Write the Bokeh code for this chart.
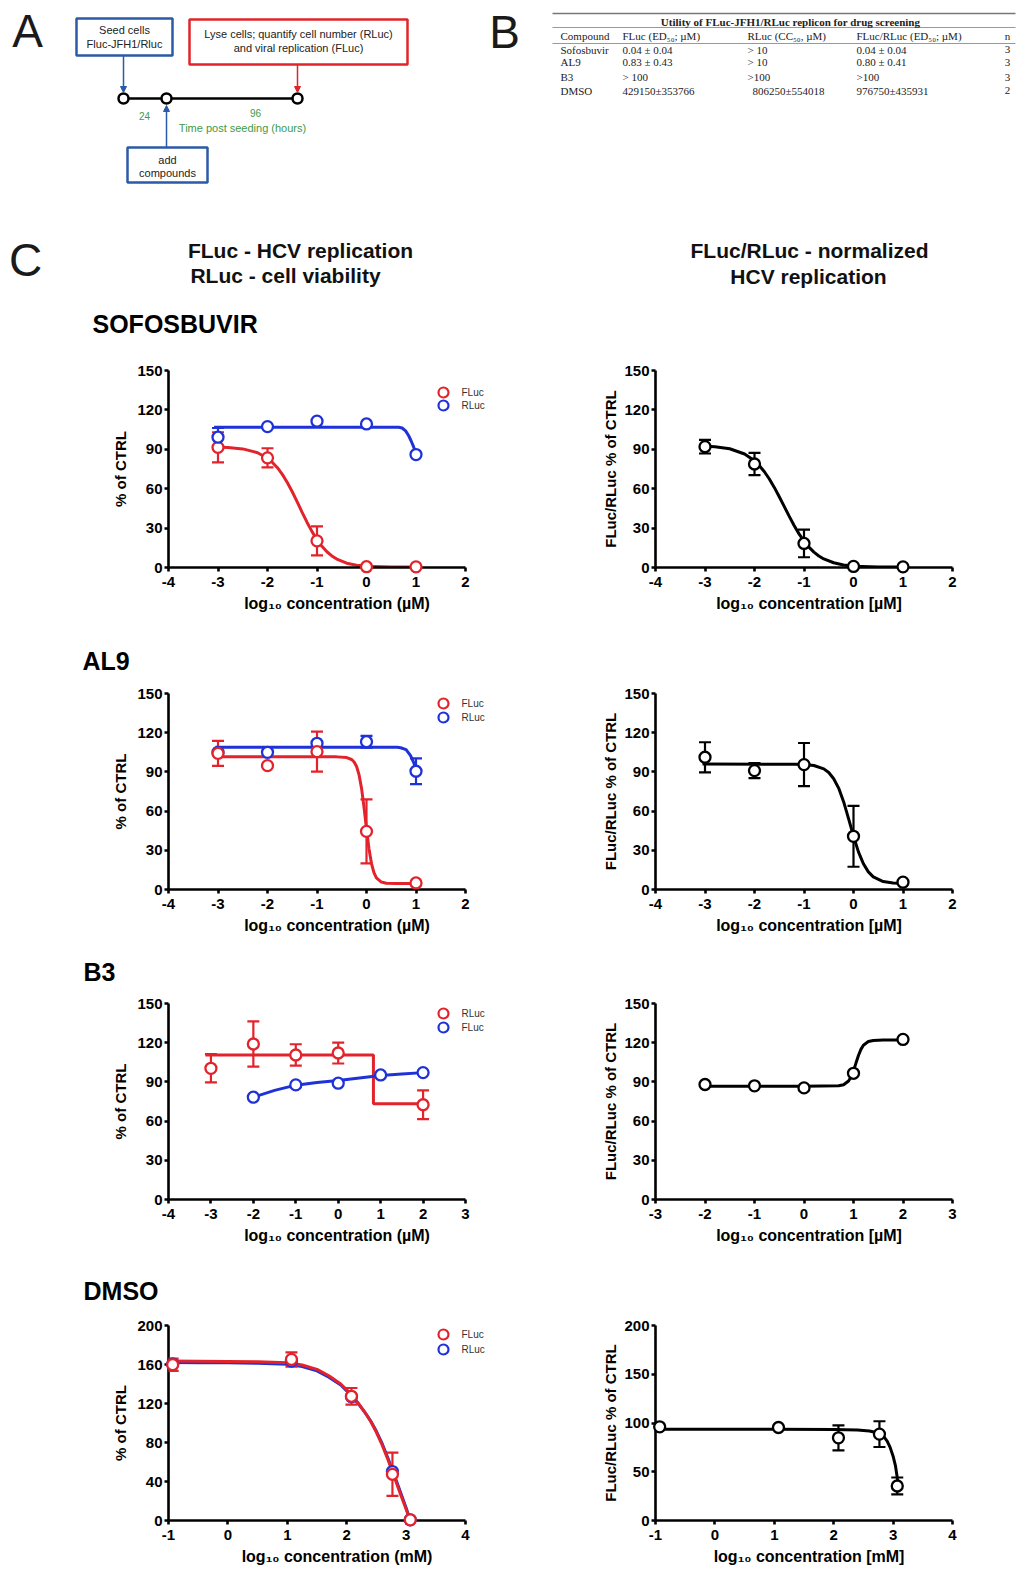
import math
from bokeh.plotting import figure
from bokeh.models import (Range1d, Label, Whisker, TeeHead, ColumnDataSource,
                          FixedTicker, Arrow, NormalHead)
from bokeh.layouts import column, row
from bokeh.embed import file_html
from bokeh.resources import INLINE

# ====================== DATA ======================
# Panel B table
table_title = "Utility of FLuc-JFH1/RLuc replicon for drug screening"
table_header = ["Compound", "FLuc (ED\u2085\u2080; \u00b5M)", "RLuc (CC\u2085\u2080, \u00b5M)", "FLuc/RLuc (ED\u2085\u2080; \u00b5M)", "n"]
table_compounds = ["Sofosbuvir", "AL9", "B3", "DMSO"]
table_fluc = ["0.04 \u00b1 0.04", "0.83 \u00b1 0.43", "> 100", "429150\u00b1353766"]
table_rluc = ["> 10", "> 10", ">100", "806250\u00b1554018"]
table_ratio = ["0.04 \u00b1 0.04", "0.80 \u00b1 0.41", ">100", "976750\u00b1435931"]
table_n = ["3", "3", "3", "2"]

# Tick labels
ticks_x_a = [-4, -3, -2, -1, 0, 1, 2]
ticks_x_a_labels = ["-4", "-3", "-2", "-1", "0", "1", "2"]
ticks_x_b3l = [-4, -3, -2, -1, 0, 1, 2, 3]
ticks_x_b3l_labels = ["-4", "-3", "-2", "-1", "0", "1", "2", "3"]
ticks_x_b3r = [-3, -2, -1, 0, 1, 2, 3]
ticks_x_b3r_labels = ["-3", "-2", "-1", "0", "1", "2", "3"]
ticks_x_dmso = [-1, 0, 1, 2, 3, 4]
ticks_x_dmso_labels = ["-1", "0", "1", "2", "3", "4"]
ticks_y_150 = [0, 30, 60, 90, 120, 150]
ticks_y_150_labels = ["0", "30", "60", "90", "120", "150"]
ticks_y_dmso_l = [0, 40, 80, 120, 160, 200]
ticks_y_dmso_l_labels = ["0", "40", "80", "120", "160", "200"]
ticks_y_dmso_r = [0, 50, 100, 150, 200]
ticks_y_dmso_r_labels = ["0", "50", "100", "150", "200"]

# ---- SOFOSBUVIR ----
sofos_x = [-3, -2, -1, 0, 1]
sofos_fluc = [91.5, 83.5, 20.3, 0.6, 0.5]
sofos_fluc_err = [11.5, 7.3, 11.0, 0, 0]
sofos_rluc = [99.2, 107.3, 111.4, 109.3, 86.0]
sofos_rluc_err = [7.0, 0, 0, 0, 0]
sofos_ratio = [92.0, 78.8, 18.3, 0.8, 0.5]
sofos_ratio_err = [5.2, 8.5, 10.5, 0, 0]
sofos_fluc_fit_x = [-3.05, -2.8, -2.5, -2.2, -2.0, -1.9, -1.8, -1.7, -1.6, -1.5, -1.4, -1.3, -1.2, -1.1,
                    -1.0, -0.9, -0.8, -0.7, -0.6, -0.4, -0.2, 0.0, 0.5, 1.05]
sofos_fluc_fit_y = [91.7, 91.4, 90.3, 87.4, 83.2, 80.0, 76.0, 70.9, 64.7, 57.7, 50.0, 42.0, 34.3, 27.3,
                    21.1, 16.1, 12.0, 8.8, 6.4, 3.3, 1.7, 0.9, 0.4, 0.3]
sofos_rluc_fit_x = [-3.08, 0.65, 0.72, 0.79, 0.85, 0.9, 0.95, 1.0, 1.02]
sofos_rluc_fit_y = [106.8, 106.8, 106.2, 104.0, 100.5, 96.5, 92.0, 87.0, 85.0]
sofos_ratio_fit_x = [-3.05, -2.8, -2.5, -2.2, -2.0, -1.9, -1.8, -1.7, -1.6, -1.5, -1.4, -1.3, -1.2, -1.1,
                     -1.0, -0.9, -0.8, -0.7, -0.6, -0.4, -0.2, 0.0, 0.5, 1.05]
sofos_ratio_fit_y = [92.5, 92.0, 90.4, 86.4, 81.3, 77.5, 72.9, 67.4, 61.0, 53.9, 46.5, 39.1, 32.0, 25.6,
                     20.1, 15.5, 11.7, 8.8, 6.5, 3.6, 1.9, 1.0, 0.4, 0.3]

# ---- AL9 ----
al9_x = [-3, -2, -1, 0, 1]
al9_fluc = [104.2, 94.8, 105.5, 44.5, 5.0]
al9_fluc_err = [9.6, 0, 15.3, 24.5, 0]
al9_rluc = [105.0, 105.0, 111.9, 113.1, 90.5]
al9_rluc_err = [0, 0, 0, 4.5, 9.8]
al9_ratio = [101.2, 91.0, 95.6, 40.7, 5.6]
al9_ratio_err = [11.5, 5.8, 16.5, 23.3, 0]
al9_fluc_fit_x = [-3.05, -1.0, -0.6, -0.4, -0.3, -0.25, -0.2, -0.15, -0.1, -0.05, 0.0, 0.05, 0.1, 0.15,
                  0.2, 0.3, 0.4, 0.6, 1.05]
al9_fluc_fit_y = [101.5, 101.5, 101.5, 101.0, 99.5, 97.6, 94.1, 87.7, 77.4, 62.9, 46.3, 31.2, 20.0, 12.9,
                  8.9, 5.7, 4.8, 4.5, 4.5]
al9_rluc_fit_x = [-3.05, 0.62, 0.69, 0.8, 0.89, 0.95, 1.0, 1.02]
al9_rluc_fit_y = [108.8, 108.8, 108.5, 107.0, 102.5, 97.5, 92.0, 90.0]
al9_ratio_fit_x = [-3.05, -1.2, -1.0, -0.8, -0.6, -0.5, -0.4, -0.3, -0.2, -0.1, 0.0, 0.1, 0.2, 0.3,
                   0.4, 0.6, 0.8, 1.05]
al9_ratio_fit_y = [96.0, 95.9, 95.7, 94.9, 92.3, 89.5, 84.8, 77.6, 67.2, 54.3, 40.8, 28.8, 19.7, 13.5,
                   9.7, 6.1, 5.0, 4.6]

# ---- B3 ----
b3_rluc_x = [-3, -2, -1, 0, 2]
b3_rluc = [100.4, 119.0, 110.6, 112.1, 72.5]
b3_rluc_err = [10.8, 17.3, 8.2, 8.0, 11.0]
b3_fluc_x = [-2, -1, 0, 1, 2]
b3_fluc = [78.3, 87.7, 89.0, 95.3, 97.1]
b3_ratio_x = [-2, -1, 0, 1, 2]
b3_ratio = [88.0, 87.0, 85.4, 96.6, 122.5]
b3_rluc_fit_x = [-3.13, 0.83, 0.83, 2.13]
b3_rluc_fit_y = [110.6, 110.6, 73.2, 73.2]
b3_fluc_fit_x = [-2.0, -1.5, -1.0, -0.5, 0.0, 0.5, 1.0, 1.5, 2.0]
b3_fluc_fit_y = [78.3, 83.5, 87.5, 89.6, 91.0, 93.0, 94.9, 96.1, 97.1]
b3_ratio_fit_x = [-2.05, -1.0, 0.0, 0.7, 0.8, 0.9, 0.95, 1.0, 1.05, 1.1, 1.15, 1.2, 1.3, 1.4, 1.6, 2.0]
b3_ratio_fit_y = [86.7, 86.7, 86.7, 87.0, 87.8, 90.7, 93.8, 98.5, 104.4, 110.2, 114.9, 118.1, 120.9,
                  121.7, 122.0, 122.0]

# ---- DMSO ----
dmso_x = [-0.93, 1.07, 2.08, 2.77, 3.07]
dmso_fluc = [159.8, 165.2, 127.4, 47.4, 0.7]
dmso_fluc_err = [6.3, 7.3, 8.5, 22.2, 0]
dmso_rluc = [160.5, 163.5, 127.0, 50.2, 0.7]
dmso_ratio = [96.1, 95.4, 84.8, 88.6, 35.4]
dmso_ratio_err = [0, 0, 12.8, 13.2, 8.7]
dmso_fit_x = [-1.0, -0.5, 0.0, 0.5, 1.0, 1.25, 1.5, 1.7, 1.9, 2.0, 2.1, 2.2, 2.3, 2.4, 2.5, 2.6, 2.7,
              2.8, 2.9, 3.0, 3.07]
dmso_fluc_fit_y = [163.5, 163.4, 163.2, 162.8, 161.8, 159.5, 155.0, 148.5, 140.0, 134.0, 127.5, 120.0,
                   111.5, 102.0, 90.5, 77.0, 61.5, 45.0, 28.0, 11.5, 0.0]
dmso_rluc_fit_y = [162.0, 161.9, 161.7, 161.3, 160.3, 158.0, 153.5, 147.0, 139.0, 133.0, 126.5, 119.5,
                   111.5, 102.5, 91.5, 78.5, 63.0, 47.0, 30.0, 13.0, 0.0]
dmso_ratio_fit_x = [-1.0, 0.0, 1.0, 2.0, 2.4, 2.6, 2.7, 2.8, 2.85, 2.9, 2.95, 3.0, 3.04, 3.08]
dmso_ratio_fit_y = [93.5, 93.5, 93.5, 93.3, 92.8, 91.8, 90.5, 88.0, 85.5, 81.5, 75.0, 66.0, 56.0, 40.0]

# ====================== STYLE ======================
RED = "#e3232b"
BLUE = "#1e32d8"
BLACK = "#000000"
BOX_BLUE = "#2b5aa8"
BOX_RED = "#e0242a"
GREEN = "#3e9a48"
SANS = "Liberation Sans"
SERIF = "Liberation Serif"
TXT = "#222222"
PAGE_W = 1017


def label(p, x, y, s, size, color=TXT, font=SANS, style="normal", align="center",
          baseline="middle", angle=0.0):
    p.add_layout(Label(x=x, y=y, text=s, text_font=font, text_font_size=f"{size}px",
                       text_font_style=style, text_color=color, text_align=align,
                       text_baseline=baseline, angle=angle))


def canvas(top, h):
    """A blank full-width figure whose data units are page pixels."""
    p = figure(width=PAGE_W, height=h, x_range=Range1d(0, PAGE_W), y_range=Range1d(top + h, top),
               output_backend="svg", toolbar_location=None, tools="",
               x_axis_type=None, y_axis_type=None)
    p.min_border_left = p.min_border_right = p.min_border_top = p.min_border_bottom = 0
    p.outline_line_color = None
    return p


# ====================== HEADER (panels A, B, C titles) ======================
hdr = canvas(0, 340)

label(hdr, 27, 30, "A", 46, color="#1a1a1a")
label(hdr, 504, 31, "B", 46, color="#1a1a1a")
label(hdr, 25, 259, "C", 46, color="#1a1a1a")

# Panel A schematic
hdr.quad(left=[76], right=[172], top=[18], bottom=[55], fill_color="white",
         line_color=BOX_BLUE, line_width=2.5)
label(hdr, 124, 29, "Seed cells", 11)
label(hdr, 124, 43, "Fluc-JFH1/Rluc", 11)
hdr.quad(left=[189], right=[407], top=[19], bottom=[64], fill_color="white",
         line_color=BOX_RED, line_width=2.5)
label(hdr, 298, 33, "Lyse cells; quantify cell number (RLuc)", 11)
label(hdr, 298, 47, "and viral replication (FLuc)", 11)
hdr.quad(left=[127], right=[207], top=[147], bottom=[182], fill_color="white",
         line_color=BOX_BLUE, line_width=2.5)
label(hdr, 167, 159, "add", 11)
label(hdr, 167, 172, "compounds", 11)
hdr.add_layout(Arrow(end=NormalHead(size=6, fill_color=BOX_BLUE, line_color=BOX_BLUE),
                     x_start=123, y_start=55, x_end=123, y_end=92,
                     line_color=BOX_BLUE, line_width=1.5))
hdr.add_layout(Arrow(end=NormalHead(size=6, fill_color=BOX_RED, line_color=BOX_RED),
                     x_start=297, y_start=64, x_end=297, y_end=92,
                     line_color=BOX_RED, line_width=1.5))
hdr.add_layout(Arrow(end=NormalHead(size=6, fill_color=BOX_BLUE, line_color=BOX_BLUE),
                     x_start=166, y_start=147, x_end=166, y_end=105,
                     line_color=BOX_BLUE, line_width=1.5))
hdr.line([123, 297], [98, 98], line_color=BLACK, line_width=2.5)
hdr.scatter([123, 166, 297], [98, 98, 98], marker="circle", size=10, fill_color="white",
            line_color=BLACK, line_width=2.5)
label(hdr, 144, 115, "24", 10, color=GREEN)
label(hdr, 255, 112, "96", 10, color=GREEN)
label(hdr, 242, 127, "Time post seeding (hours)", 11, color=GREEN)

# Panel B table
hdr.segment(x0=[552, 552, 552], x1=[1015, 1015, 1015], y0=[13, 27, 43], y1=[13, 27, 43],
            line_color=["#777777", "#999999", "#999999"], line_width=[1.6, 1.0, 1.0])
label(hdr, 790, 21, table_title, 11, style="bold", font=SERIF)
col_x = [560, 622, 747, 856]
for cx, htxt in zip(col_x, table_header[:4]):
    label(hdr, cx, 35.5, htxt, 11, font=SERIF, align="left")
label(hdr, 1007, 35.5, table_header[4], 11, font=SERIF)
row_y = [49, 61.5, 76.5, 90]
for i, ry in enumerate(row_y):
    label(hdr, col_x[0], ry, table_compounds[i], 11, font=SERIF, align="left")
    label(hdr, col_x[1], ry, table_fluc[i], 11, font=SERIF, align="left")
    label(hdr, col_x[2] + (5 if i == 3 else 0), ry, table_rluc[i], 11, font=SERIF, align="left")
    label(hdr, col_x[3], ry, table_ratio[i], 11, font=SERIF, align="left")
    label(hdr, 1007, ry, table_n[i], 11, font=SERIF)

# Panel C column headers
label(hdr, 300, 250, "FLuc - HCV replication", 21, style="bold", color="#111111")
label(hdr, 285, 275, "RLuc - cell viability", 21, style="bold", color="#111111")
label(hdr, 809, 250, "FLuc/RLuc - normalized", 21, style="bold", color="#111111")
label(hdr, 808, 276, "HCV replication", 21, style="bold", color="#111111")
label(hdr, 92, 323, "SOFOSBUVIR", 25, color=BLACK, style="bold", align="left")

# ====================== CHARTS ======================
LEFT_GEOM = dict(fig_x=0, fig_w=520, fl=168, ax_end=465, fr=505, ylab_standoff=5)
RIGHT_GEOM = dict(fig_x=520, fig_w=PAGE_W - 520, fl=655, ax_end=952, fr=962, ylab_standoff=2)


def chart(geom, band_top, band_h, ytop, y0, xmin, xmax, ymax, xticks, xlabels, yticks, ylabels,
          ytitle, unit):
    fl, ax_end, fr = geom["fl"], geom["ax_end"], geom["fr"]
    pxu = (ax_end - fl) / (xmax - xmin)
    x_end = xmin + (fr - fl) / pxu
    p = figure(width=geom["fig_w"], height=band_h, x_range=Range1d(xmin, x_end),
               y_range=Range1d(0, ymax), output_backend="svg", toolbar_location=None,
               tools="")
    p.min_border_left = fl - geom["fig_x"]
    p.min_border_right = geom["fig_x"] + geom["fig_w"] - fr
    p.min_border_top = ytop - band_top
    p.min_border_bottom = band_top + band_h - y0
    p.xgrid.visible = False
    p.ygrid.visible = False
    p.outline_line_color = None
    xa, ya = p.xaxis[0], p.yaxis[0]
    xa.bounds = (xmin, xmax)
    ya.bounds = (0, ymax)
    xa.ticker = FixedTicker(ticks=xticks)
    ya.ticker = FixedTicker(ticks=yticks)
    xa.major_label_overrides = {t: s for t, s in zip(xticks, xlabels)}
    ya.major_label_overrides = {t: s for t, s in zip(yticks, ylabels)}
    xa.axis_label = "log\u2081\u2080 concentration " + unit
    ya.axis_label = ytitle
    xa.axis_label_text_font_size = "16px"
    ya.axis_label_text_font_size = "15px"
    ya.axis_label_standoff = geom["ylab_standoff"]
    for ax in (xa, ya):
        ax.axis_line_color = BLACK
        ax.axis_line_width = 2.6
        ax.major_tick_line_color = BLACK
        ax.major_tick_line_width = 2.6
        ax.major_tick_in = 0
        ax.major_tick_out = 4
        ax.minor_tick_line_color = None
        ax.major_label_text_font = SANS
        ax.major_label_text_font_style = "bold"
        ax.major_label_text_font_size = "15px"
        ax.major_label_text_color = BLACK
        ax.major_label_standoff = 2
        ax.axis_label_text_font = SANS
        ax.axis_label_text_font_style = "bold"
        ax.axis_label_text_color = BLACK
    xa.major_label_standoff = 5
    xa.axis_label_standoff = 5

    def dx(px):
        return xmin + (px - fl) / pxu

    def dy(py):
        return (y0 - py) / (y0 - ytop) * ymax

    return p, dx, dy


def errbars(p, xs, ys, errs, color):
    bx, up, lo = [], [], []
    for x, y, e in zip(xs, ys, errs):
        if e > 0:
            bx.append(x)
            up.append(y + e)
            lo.append(y - e)
    if not bx:
        return
    src = ColumnDataSource(dict(base=bx, upper=up, lower=lo))
    p.add_layout(Whisker(source=src, base="base", upper="upper", lower="lower",
                         line_color=color, line_width=2.2, level="annotation",
                         upper_head=TeeHead(size=12, line_color=color, line_width=2.2),
                         lower_head=TeeHead(size=12, line_color=color, line_width=2.2)))


def points(p, xs, ys, color):
    p.scatter(xs, ys, marker="circle", size=11, fill_color="white", line_color=color,
              line_width=2.3, level="overlay")


def curve(p, xs, ys, color):
    p.line(xs, ys, line_color=color, line_width=3)


def legend(p, dx, dy, entries, ys_px):
    for (name, color), ypx in zip(entries, ys_px):
        p.scatter([dx(443)], [dy(ypx)], marker="circle", size=10, fill_color="white",
                  line_color=color, line_width=2.2, level="overlay")
        label(p, dx(461), dy(ypx), name, 10, color="#333333", align="left")


Y_LEFT = "% of CTRL"
Y_RIGHT = "FLuc/RLuc % of CTRL"

# ---- Row 1: SOFOSBUVIR (band 340..640) ----
R1 = (340, 300, 370, 567)
l1, dx, dy = chart(LEFT_GEOM, *R1, -4, 2, 150, ticks_x_a, ticks_x_a_labels,
                   ticks_y_150, ticks_y_150_labels, Y_LEFT, "(\u00b5M)")
curve(l1, sofos_rluc_fit_x, sofos_rluc_fit_y, BLUE)
curve(l1, sofos_fluc_fit_x, sofos_fluc_fit_y, RED)
errbars(l1, sofos_x, sofos_rluc, sofos_rluc_err, BLUE)
errbars(l1, sofos_x, sofos_fluc, sofos_fluc_err, RED)
points(l1, sofos_x, sofos_fluc, RED)
points(l1, sofos_x, sofos_rluc, BLUE)
legend(l1, dx, dy, [("FLuc", RED), ("RLuc", BLUE)], [392, 405])

r1, dx, dy = chart(RIGHT_GEOM, *R1, -4, 2, 150, ticks_x_a, ticks_x_a_labels,
                   ticks_y_150, ticks_y_150_labels, Y_RIGHT, "[\u00b5M]")
curve(r1, sofos_ratio_fit_x, sofos_ratio_fit_y, BLACK)
errbars(r1, sofos_x, sofos_ratio, sofos_ratio_err, BLACK)
points(r1, sofos_x, sofos_ratio, BLACK)

# ---- strip: AL9 title (640..682) ----
s2 = canvas(640, 42)
label(s2, 82, 660, "AL9", 25, color=BLACK, style="bold", align="left")

# ---- Row 2: AL9 (band 682..945) ----
R2 = (682, 263, 693, 889)
l2, dx, dy = chart(LEFT_GEOM, *R2, -4, 2, 150, ticks_x_a, ticks_x_a_labels,
                   ticks_y_150, ticks_y_150_labels, Y_LEFT, "(\u00b5M)")
curve(l2, al9_rluc_fit_x, al9_rluc_fit_y, BLUE)
curve(l2, al9_fluc_fit_x, al9_fluc_fit_y, RED)
errbars(l2, al9_x, al9_rluc, al9_rluc_err, BLUE)
errbars(l2, al9_x, al9_fluc, al9_fluc_err, RED)
points(l2, al9_x, al9_rluc, BLUE)
points(l2, al9_x, al9_fluc, RED)
legend(l2, dx, dy, [("FLuc", RED), ("RLuc", BLUE)], [703, 717])

r2, dx, dy = chart(RIGHT_GEOM, *R2, -4, 2, 150, ticks_x_a, ticks_x_a_labels,
                   ticks_y_150, ticks_y_150_labels, Y_RIGHT, "[\u00b5M]")
curve(r2, al9_ratio_fit_x, al9_ratio_fit_y, BLACK)
errbars(r2, al9_x, al9_ratio, al9_ratio_err, BLACK)
points(r2, al9_x, al9_ratio, BLACK)

# ---- strip: B3 title (945..990) ----
s3 = canvas(945, 45)
label(s3, 83, 971, "B3", 25, color=BLACK, style="bold", align="left")

# ---- Row 3: B3 (band 990..1255) ----
R3 = (990, 265, 1003, 1199)
l3, dx, dy = chart(LEFT_GEOM, *R3, -4, 3, 150, ticks_x_b3l, ticks_x_b3l_labels,
                   ticks_y_150, ticks_y_150_labels, Y_LEFT, "(\u00b5M)")
curve(l3, b3_rluc_fit_x, b3_rluc_fit_y, RED)
curve(l3, b3_fluc_fit_x, b3_fluc_fit_y, BLUE)
errbars(l3, b3_rluc_x, b3_rluc, b3_rluc_err, RED)
points(l3, b3_rluc_x, b3_rluc, RED)
points(l3, b3_fluc_x, b3_fluc, BLUE)
legend(l3, dx, dy, [("RLuc", RED), ("FLuc", BLUE)], [1013, 1027])

r3, dx, dy = chart(RIGHT_GEOM, *R3, -3, 3, 150, ticks_x_b3r, ticks_x_b3r_labels,
                   ticks_y_150, ticks_y_150_labels, Y_RIGHT, "[\u00b5M]")
curve(r3, b3_ratio_fit_x, b3_ratio_fit_y, BLACK)
points(r3, b3_ratio_x, b3_ratio, BLACK)

# ---- strip: DMSO title (1255..1312) ----
s4 = canvas(1255, 57)
label(s4, 83, 1290, "DMSO", 25, color=BLACK, style="bold", align="left")

# ---- Row 4: DMSO (band 1312..1569) ----
R4 = (1312, 257, 1325, 1520)
l4, dx, dy = chart(LEFT_GEOM, *R4, -1, 4, 200, ticks_x_dmso, ticks_x_dmso_labels,
                   ticks_y_dmso_l, ticks_y_dmso_l_labels, Y_LEFT, "(mM)")
curve(l4, dmso_fit_x, dmso_rluc_fit_y, BLUE)
curve(l4, dmso_fit_x, dmso_fluc_fit_y, RED)
errbars(l4, dmso_x, dmso_fluc, dmso_fluc_err, RED)
points(l4, dmso_x, dmso_rluc, BLUE)
points(l4, dmso_x, dmso_fluc, RED)
legend(l4, dx, dy, [("FLuc", RED), ("RLuc", BLUE)], [1334, 1349])

r4, dx, dy = chart(RIGHT_GEOM, *R4, -1, 4, 200, ticks_x_dmso, ticks_x_dmso_labels,
                   ticks_y_dmso_r, ticks_y_dmso_r_labels, Y_RIGHT, "[mM]")
curve(r4, dmso_ratio_fit_x, dmso_ratio_fit_y, BLACK)
errbars(r4, dmso_x, dmso_ratio, dmso_ratio_err, BLACK)
points(r4, dmso_x, dmso_ratio, BLACK)

layout = column(hdr, row(l1, r1), s2, row(l2, r2), s3, row(l3, r3), s4, row(l4, r4))
open("out.html", "w").write(file_html(layout, INLINE, "HCV replicon drug screening"))
